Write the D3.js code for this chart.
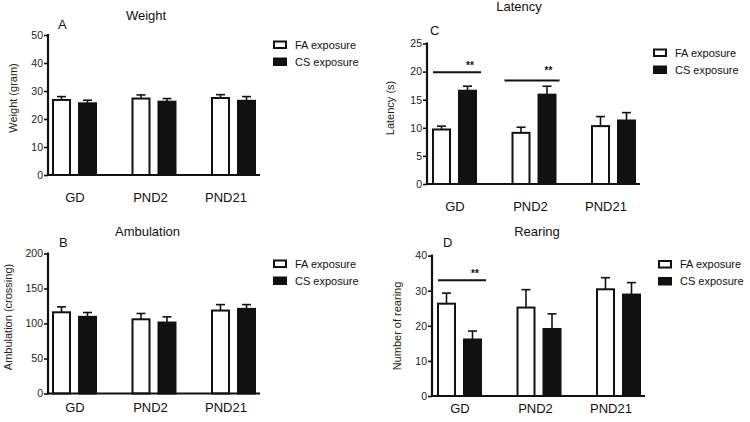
<!DOCTYPE html>
<html>
<head>
<meta charset="utf-8">
<script src="https://cdn.jsdelivr.net/npm/d3@7"></script>
<style>
  html, body { margin: 0; padding: 0; background: #fff; }
  svg { display: block; font-family: "Liberation Sans", Arial, sans-serif; }
</style>
</head>
<body>
<svg id="chart" width="750" height="422"></svg>
<script>
// ---------------- data ----------------
const groups = ["GD", "PND2", "PND21"];
const seriesNames = ["FA exposure", "CS exposure"];

const weightFA = [26.8, 27.3, 27.5];
const weightFAErr = [1.2, 1.3, 1.2];
const weightCS = [25.6, 26.2, 26.5];
const weightCSErr = [1.1, 1.1, 1.5];
const weightTicks = [0, 10, 20, 30, 40, 50];

const latencyFA = [9.7, 9.1, 10.3];
const latencyFAErr = [0.6, 1.0, 1.7];
const latencyCS = [16.6, 15.9, 11.3];
const latencyCSErr = [0.8, 1.5, 1.4];
const latencyTicks = [0, 5, 10, 15, 20, 25];
const latencySig = [{ group: "GD", level: 19.9 }, { group: "PND2", level: 18.4 }];

const ambFA = [116, 106, 118.5];
const ambFAErr = [7.8, 8.3, 8.5];
const ambCS = [109.5, 101.4, 120.9];
const ambCSErr = [6.2, 8.1, 6.1];
const ambTicks = [0, 50, 100, 150, 200];

const rearFA = [26.3, 25.2, 30.4];
const rearFAErr = [3.0, 5.1, 3.3];
const rearCS = [16.1, 19.1, 28.9];
const rearCSErr = [2.4, 4.3, 3.4];
const rearTicks = [0, 10, 20, 30, 40];
const rearSig = [{ group: "GD", level: 33 }];

// ---------------- drawing ----------------
const svg = d3.select("#chart");

function panel(cfg) {
  const g = svg.append("g");
  const y = d3.scaleLinear().domain([0, cfg.ymax]).range([cfg.y0, cfg.y1]);
  const x = d3.scaleBand().domain(groups).range([cfg.gx, cfg.gx + 204])
    .paddingInner(0.434).paddingOuter(0);
  const xs = d3.scaleBand().domain(seriesNames).range([0, x.bandwidth()])
    .paddingInner(0.27).paddingOuter(0);
  const xl = d3.scalePoint().domain(groups).range([cfg.gx + 23, cfg.gx + 174]);

  const rows = [];
  groups.forEach((grp, i) => {
    rows.push({ grp, s: seriesNames[0], v: cfg.fa[i], e: cfg.faErr[i] });
    rows.push({ grp, s: seriesNames[1], v: cfg.cs[i], e: cfg.csErr[i] });
  });

  // error bars (upward only)
  const eb = g.append("g").attr("stroke", "#111").attr("stroke-width", 1.6);
  rows.forEach(r => {
    const cx = x(r.grp) + xs(r.s) + xs.bandwidth() / 2;
    eb.append("line").attr("x1", cx).attr("x2", cx)
      .attr("y1", y(r.v)).attr("y2", y(r.v + r.e));
    eb.append("line").attr("x1", cx - 4.5).attr("x2", cx + 4.5)
      .attr("y1", y(r.v + r.e)).attr("y2", y(r.v + r.e));
  });

  // bars
  g.append("g").selectAll("rect").data(rows).join("rect")
    .attr("x", d => x(d.grp) + xs(d.s) + 1)
    .attr("width", xs.bandwidth() - 2)
    .attr("y", d => y(d.v))
    .attr("height", d => y(0) - y(d.v))
    .attr("fill", d => d.s === seriesNames[0] ? "#fff" : "#111")
    .attr("stroke", "#111").attr("stroke-width", 2);

  // y axis
  const ya = d3.axisLeft(y).tickValues(cfg.ticks).tickSize(4).tickPadding(1)
    .tickFormat(d3.format("d"));
  const yg = g.append("g").attr("transform", `translate(${cfg.ax},0)`).call(ya);
  yg.select(".domain").remove();
  yg.selectAll(".tick line").attr("stroke", "#111").attr("stroke-width", 1.6);
  yg.selectAll(".tick text").attr("font-size", 10.5).attr("fill", "#222")
    .attr("font-family", "Liberation Sans, Arial, sans-serif");
  g.append("line").attr("x1", cfg.ax).attr("x2", cfg.ax)
    .attr("y1", y(cfg.ymax) - 1).attr("y2", y(0) + 1)
    .attr("stroke", "#111").attr("stroke-width", 2.2);
  // baseline
  g.append("line").attr("x1", cfg.ax).attr("x2", cfg.gx + 208)
    .attr("y1", y(0)).attr("y2", y(0))
    .attr("stroke", "#111").attr("stroke-width", 2.2);

  // x labels
  g.append("g").selectAll("text").data(groups).join("text")
    .attr("x", d => xl(d)).attr("y", y(0) + cfg.xlOff)
    .attr("text-anchor", "middle").attr("font-size", 13).attr("fill", "#111")
    .text(d => d);

  // y label
  g.append("text")
    .attr("transform", `translate(${cfg.ylx},${cfg.yly}) rotate(-90)`)
    .attr("text-anchor", "middle").attr("dy", "0.35em")
    .attr("font-size", 11).attr("fill", "#222").text(cfg.ylabel);

  // title & letter
  g.append("text").attr("x", cfg.tx).attr("y", cfg.ty).attr("text-anchor", "middle")
    .attr("font-size", 13).attr("fill", "#111").text(cfg.title);
  g.append("text").attr("x", cfg.lx).attr("y", cfg.ly)
    .attr("font-size", 13).attr("fill", "#111").text(cfg.letter);

  // significance
  (cfg.sig || []).forEach(s => {
    const x1 = x(s.group) + (s.group === "GD" ? 1 : -7);
    const x2 = x(s.group) + x.bandwidth() + (s.group === "GD" ? 4 : 3);
    g.append("line").attr("x1", x1).attr("x2", x2)
      .attr("y1", y(s.level)).attr("y2", y(s.level))
      .attr("stroke", "#111").attr("stroke-width", 2);
    g.append("text").attr("x", x2 - 11).attr("y", y(s.level) - (s.group === "GD" ? 3 : 7))
      .attr("text-anchor", "middle").attr("font-size", 10).attr("font-weight", "bold")
      .attr("fill", "#111").text("**");
  });

  // legend
  seriesNames.forEach((s, i) => {
    const by = cfg.legY + i * 17;
    g.append("rect").attr("x", cfg.legX + 1).attr("y", by + 1)
      .attr("width", 12).attr("height", 6.5)
      .attr("fill", i === 0 ? "#fff" : "#111")
      .attr("stroke", "#111").attr("stroke-width", 2);
    g.append("text").attr("x", cfg.legX + 22).attr("y", by + 4.5).attr("dy", "0.35em")
      .attr("font-size", 11).attr("fill", "#111").text(s);
  });
}

panel({ fa: weightFA, faErr: weightFAErr, cs: weightCS, csErr: weightCSErr,
  ticks: weightTicks, ymax: 50, y0: 175, y1: 35, ax: 48, gx: 52, xlOff: 27,
  ylabel: "Weight (gram)", ylx: 13, yly: 98, title: "Weight", tx: 146, ty: 20,
  letter: "A", lx: 58, ly: 29, legX: 273, legY: 40.5 });

panel({ fa: latencyFA, faErr: latencyFAErr, cs: latencyCS, csErr: latencyCSErr,
  ticks: latencyTicks, ymax: 25, y0: 184, y1: 43.5, ax: 427, gx: 432, xlOff: 27,
  ylabel: "Latency (s)", ylx: 390, yly: 108, title: "Latency", tx: 519, ty: 11,
  letter: "C", lx: 430, ly: 35, legX: 653, legY: 48.5, sig: latencySig });

panel({ fa: ambFA, faErr: ambFAErr, cs: ambCS, csErr: ambCSErr,
  ticks: ambTicks, ymax: 200, y0: 393.5, y1: 253.5, ax: 48, gx: 52, xlOff: 18,
  ylabel: "Ambulation (crossing)", ylx: 8, yly: 317, title: "Ambulation", tx: 147.5, ty: 236,
  letter: "B", lx: 59, ly: 247, legX: 273, legY: 259.5 });

panel({ fa: rearFA, faErr: rearFAErr, cs: rearCS, csErr: rearCSErr,
  ticks: rearTicks, ymax: 40, y0: 396, y1: 255.6, ax: 432, gx: 437, xlOff: 17,
  ylabel: "Number of rearing", ylx: 397, yly: 326, title: "Rearing", tx: 537, ty: 236,
  letter: "D", lx: 443, ly: 247, legX: 658, legY: 260, sig: rearSig });
</script>
</body>
</html>
